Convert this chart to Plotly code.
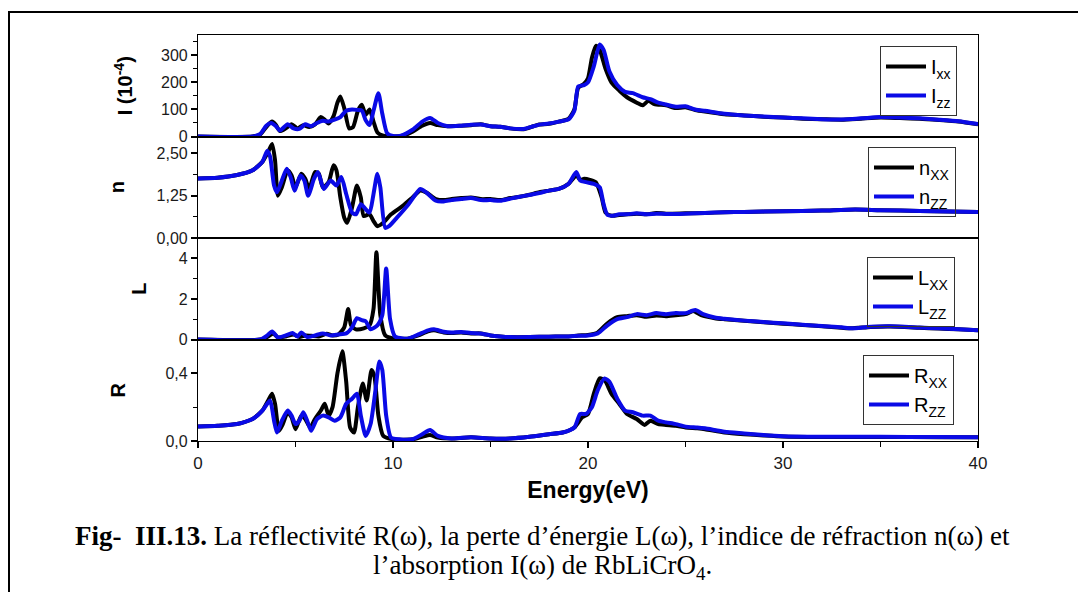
import plotly.graph_objects as go
from plotly.subplots import make_subplots

# ---------------- data ----------------
I_xx_E = [0, 2.8, 3.2, 3.5, 3.8, 4.0, 4.2, 4.5, 4.8, 5.1, 5.4, 5.7, 6.0, 6.3, 6.5, 6.7, 6.95, 7.15, 7.3, 7.5, 7.75, 7.95, 8.2, 8.4, 8.6, 8.8, 9.0, 9.2, 9.5, 10.0, 10.5, 11.0, 11.5, 11.9, 12.3, 12.8, 13.5, 14.0, 14.5, 15.0, 15.5, 16.0, 16.7, 17.2, 17.5, 18.0, 18.5, 19.0, 19.3, 19.5, 19.8, 20.0, 20.2, 20.4, 20.6, 20.9, 21.2, 21.6, 22.0, 22.5, 22.8, 23.1, 23.4, 24.0, 24.5, 25.0, 25.5, 26.0, 27.0, 28.0, 29.0, 30.0, 31.0, 32.0, 33.0, 34.0, 35.0, 36.0, 37.0, 38.0, 39.0, 40.0]
I_xx = [0, 0, 8, 35, 55, 42, 20, 30, 45, 30, 42, 35, 45, 72, 62, 48, 75, 125, 148, 105, 30, 35, 95, 117, 80, 100, 55, 15, 3, 0, 3, 18, 40, 50, 42, 38, 40, 42, 45, 38, 36, 30, 27, 38, 44, 47, 55, 65, 100, 180, 195, 215, 290, 335, 320, 250, 200, 170, 145, 125, 115, 132, 120, 115, 105, 108, 98, 92, 82, 78, 73, 70, 66, 64, 62, 66, 70, 68, 66, 61, 55, 45]

I_zz_E = [0, 2.8, 3.2, 3.5, 3.75, 4.0, 4.2, 4.6, 4.9, 5.2, 5.5, 5.8, 6.1, 6.4, 6.7, 7.0, 7.3, 7.6, 7.9, 8.2, 8.4, 8.6, 8.8, 9.0, 9.25, 9.45, 9.7, 10.0, 10.4, 11.0, 11.5, 11.9, 12.3, 12.8, 13.5, 14.0, 14.5, 15.0, 15.5, 16.0, 16.7, 17.2, 17.5, 18.0, 18.5, 19.0, 19.3, 19.5, 19.8, 20.0, 20.3, 20.6, 20.8, 21.1, 21.5, 21.9, 22.3, 22.8, 23.2, 23.6, 24.0, 24.5, 25.0, 25.5, 26.0, 27.0, 28.0, 29.0, 30.0, 31.0, 32.0, 33.0, 34.0, 35.0, 36.0, 37.0, 38.0, 39.0, 40.0]
I_zz = [0, 0, 10, 40, 50, 38, 22, 45, 30, 28, 45, 38, 50, 58, 55, 62, 72, 95, 100, 98, 96, 60, 42, 95, 160, 85, 12, 2, 3, 25, 55, 68, 50, 38, 40, 43, 44, 38, 36, 30, 28, 38, 44, 48, 55, 63, 95, 185, 190, 200, 260, 340, 320, 240, 190, 165, 160, 145, 138, 125, 118, 110, 112, 100, 95, 84, 78, 74, 70, 67, 64, 63, 67, 72, 70, 67, 62, 56, 46]

n_xx_E = [0, 1.0, 2.0, 2.8, 3.3, 3.6, 3.8, 3.95, 4.1, 4.3, 4.6, 4.8, 5.0, 5.3, 5.5, 5.7, 6.0, 6.2, 6.4, 6.7, 6.95, 7.1, 7.3, 7.5, 7.65, 7.9, 8.15, 8.35, 8.5, 8.8, 9.0, 9.2, 9.5, 9.9, 10.5, 11.0, 11.4, 11.7, 12.2, 12.6, 13.0, 13.5, 14.0, 14.5, 15.0, 15.5, 16.0, 16.5, 17.0, 17.5, 18.0, 18.5, 19.0, 19.4, 19.6, 19.8, 20.1, 20.4, 20.7, 20.9, 21.2, 21.6, 22.0, 22.5, 23.0, 23.5, 24.0, 25.0, 26.0, 27.0, 28.0, 30.0, 32.0, 33.7, 35.0, 37.0, 40.0]
n_xx = [1.76, 1.78, 1.86, 2.0, 2.25, 2.55, 2.78, 2.3, 1.25, 1.5, 2.0, 1.85, 1.5, 1.9, 1.75, 1.45, 1.95, 1.9, 1.5, 1.65, 2.15, 2.0, 1.2, 0.6, 0.45, 0.9, 1.55, 1.2, 0.65, 0.7, 0.5, 0.35, 0.45, 0.7, 0.95, 1.2, 1.4, 1.35, 1.15, 1.12, 1.15, 1.18, 1.2, 1.15, 1.15, 1.12, 1.18, 1.22, 1.28, 1.35, 1.4, 1.45, 1.6, 1.85, 1.72, 1.75, 1.72, 1.65, 1.2, 0.75, 0.66, 0.68, 0.7, 0.72, 0.7, 0.74, 0.72, 0.73, 0.74, 0.76, 0.77, 0.79, 0.81, 0.84, 0.82, 0.8, 0.77]

n_zz_E = [0, 1.0, 2.0, 2.8, 3.3, 3.55, 3.7, 3.9, 4.05, 4.3, 4.55, 4.75, 4.95, 5.25, 5.45, 5.65, 5.95, 6.15, 6.45, 6.8, 7.1, 7.35, 7.6, 7.9, 8.1, 8.35, 8.6, 8.8, 9.0, 9.2, 9.35, 9.6, 9.8, 10.2, 10.8, 11.4, 11.7, 12.2, 12.6, 13.0, 13.5, 14.0, 14.5, 15.0, 15.5, 16.0, 16.5, 17.0, 17.5, 18.0, 18.5, 19.0, 19.4, 19.6, 19.9, 20.3, 20.6, 20.8, 21.0, 21.3, 21.6, 22.0, 22.5, 23.0, 23.5, 24.0, 25.0, 26.0, 27.0, 28.0, 30.0, 32.0, 33.7, 35.0, 37.0, 40.0]
n_zz = [1.76, 1.78, 1.86, 2.0, 2.25, 2.58, 2.4, 1.55, 1.35, 1.7, 2.05, 1.8, 1.4, 1.85, 1.7, 1.25, 1.75, 1.95, 1.45, 1.7, 1.55, 1.8, 1.3, 0.75, 0.7, 1.0, 0.85, 0.75, 1.3, 1.9, 1.5, 0.3, 0.35, 0.6, 1.0, 1.45, 1.35, 1.1, 1.08, 1.12, 1.15, 1.18, 1.12, 1.12, 1.1, 1.16, 1.22, 1.27, 1.33, 1.4, 1.45, 1.6, 1.95, 1.7, 1.65, 1.6, 1.5, 1.0, 0.68, 0.66, 0.7, 0.7, 0.73, 0.7, 0.72, 0.71, 0.72, 0.74, 0.76, 0.77, 0.79, 0.81, 0.84, 0.82, 0.8, 0.77]

L_xx_E = [0, 3.2, 3.6, 3.85, 4.1, 4.5, 4.9, 5.2, 5.5, 5.8, 6.2, 6.6, 6.9, 7.2, 7.5, 7.7, 7.85, 8.1, 8.5, 8.8, 9.0, 9.15, 9.35, 9.6, 10.0, 10.8, 11.3, 11.8, 12.1, 12.6, 13.0, 13.5, 14.0, 14.5, 15.0, 15.5, 16.0, 17.0, 18.0, 19.0, 19.5, 20.0, 20.5, 21.0, 21.5, 22.0, 22.5, 23.0, 23.5, 24.0, 24.5, 25.0, 25.4, 25.8, 26.5, 27.0, 28.0, 29.0, 30.0, 31.0, 32.0, 33.0, 33.5, 34.5, 35.5, 37.0, 38.0, 39.0, 40.0]
L_xx = [0, 0, 0.15, 0.3, 0.1, 0.15, 0.25, 0.12, 0.2, 0.18, 0.15, 0.28, 0.2, 0.25, 0.6, 1.5, 0.7, 0.5, 0.55, 0.7, 1.5, 4.3, 1.2, 0.2, 0.05, 0.05, 0.2, 0.4, 0.45, 0.35, 0.32, 0.35, 0.3, 0.3, 0.2, 0.15, 0.12, 0.12, 0.14, 0.15, 0.2, 0.22, 0.35, 0.8, 1.1, 1.15, 1.2, 1.12, 1.18, 1.15, 1.2, 1.25, 1.4, 1.2, 1.05, 1.0, 0.92, 0.85, 0.78, 0.72, 0.65, 0.58, 0.55, 0.62, 0.64, 0.58, 0.54, 0.5, 0.45]

L_zz_E = [0, 3.2, 3.55, 3.8, 4.1, 4.5, 4.85, 5.1, 5.3, 5.6, 6.0, 6.4, 6.8, 7.2, 7.6, 7.9, 8.15, 8.4, 8.6, 8.85, 9.2, 9.45, 9.65, 9.85, 10.1, 10.5, 10.8, 11.3, 11.8, 12.1, 12.6, 13.0, 13.5, 14.0, 14.5, 15.0, 15.5, 16.0, 17.0, 18.0, 19.0, 19.5, 20.0, 20.5, 21.0, 21.5, 22.0, 22.5, 23.0, 23.5, 24.0, 24.5, 25.0, 25.5, 25.9, 26.5, 27.0, 28.0, 29.0, 30.0, 31.0, 32.0, 33.0, 33.5, 34.5, 35.5, 37.0, 38.0, 39.0, 40.0]
L_zz = [0, 0, 0.2, 0.4, 0.1, 0.2, 0.32, 0.15, 0.35, 0.12, 0.2, 0.3, 0.2, 0.25, 0.3, 0.6, 1.05, 0.95, 0.9, 0.5, 0.7, 1.2, 3.5, 1.0, 0.15, 0.05, 0.05, 0.25, 0.45, 0.5, 0.38, 0.35, 0.37, 0.32, 0.3, 0.2, 0.15, 0.12, 0.12, 0.14, 0.15, 0.18, 0.2, 0.3, 0.7, 1.0, 1.1, 1.25, 1.2, 1.3, 1.25, 1.3, 1.3, 1.45, 1.25, 1.08, 1.02, 0.93, 0.86, 0.8, 0.73, 0.66, 0.6, 0.55, 0.63, 0.65, 0.59, 0.55, 0.5, 0.46]

R_xx_E = [0, 1.0, 2.0, 2.8, 3.3, 3.6, 3.8, 3.95, 4.15, 4.35, 4.6, 4.8, 5.0, 5.3, 5.5, 5.75, 6.0, 6.3, 6.5, 6.7, 6.9, 7.15, 7.4, 7.6, 7.8, 8.0, 8.2, 8.45, 8.65, 8.9, 9.05, 9.25, 9.5, 10.0, 11.0, 11.5, 11.9, 12.3, 13.0, 14.0, 15.0, 16.0, 17.0, 18.0, 18.7, 19.3, 19.7, 20.0, 20.3, 20.6, 20.85, 21.2, 21.6, 22.0, 22.5, 22.9, 23.2, 23.6, 24.0, 24.5, 25.0, 25.6, 26.0, 27.0, 28.0, 29.0, 30.0, 32.0, 35.0, 38.0, 40.0]
R_xx = [0.085, 0.09, 0.1, 0.13, 0.18, 0.24, 0.28, 0.22, 0.06, 0.1, 0.17, 0.14, 0.07, 0.15, 0.13, 0.08, 0.13, 0.18, 0.22, 0.15, 0.2, 0.4, 0.53, 0.35, 0.08, 0.05, 0.2, 0.34, 0.24, 0.42, 0.38, 0.15, 0.03, 0.01, 0.01, 0.025, 0.035, 0.02, 0.015, 0.022, 0.015, 0.015, 0.025, 0.04, 0.05, 0.08, 0.14, 0.16, 0.28, 0.37, 0.36, 0.28, 0.22, 0.16, 0.13, 0.095, 0.12, 0.1, 0.095, 0.09, 0.08, 0.075, 0.07, 0.05, 0.04, 0.033, 0.027, 0.024, 0.024, 0.022, 0.022]

R_zz_E = [0, 1.0, 2.0, 2.8, 3.3, 3.55, 3.7, 3.9, 4.05, 4.3, 4.6, 4.8, 5.0, 5.2, 5.4, 5.6, 5.8, 6.1, 6.4, 6.7, 7.0, 7.3, 7.6, 7.9, 8.15, 8.35, 8.6, 8.85, 9.1, 9.3, 9.45, 9.65, 9.9, 10.3, 11.0, 11.5, 11.9, 12.3, 13.0, 14.0, 15.0, 16.0, 17.0, 18.0, 18.7, 19.3, 19.6, 19.9, 20.2, 20.5, 20.85, 21.1, 21.5, 21.9, 22.3, 22.8, 23.2, 23.6, 24.0, 24.5, 25.0, 25.6, 26.0, 27.0, 28.0, 29.0, 30.0, 32.0, 35.0, 38.0, 40.0]
R_zz = [0.085, 0.09, 0.1, 0.13, 0.18, 0.22, 0.24, 0.12, 0.05, 0.12, 0.18, 0.15, 0.1, 0.12, 0.17, 0.12, 0.06, 0.13, 0.15, 0.14, 0.12, 0.14, 0.22, 0.25, 0.28, 0.15, 0.03, 0.1, 0.3, 0.47, 0.42, 0.15, 0.02, 0.01, 0.01, 0.04, 0.065, 0.03, 0.015, 0.022, 0.015, 0.015, 0.025, 0.04, 0.05, 0.08, 0.16, 0.16, 0.2, 0.3, 0.37, 0.35, 0.25, 0.18, 0.17, 0.15, 0.15, 0.12, 0.11, 0.1, 0.085, 0.08, 0.075, 0.055, 0.045, 0.035, 0.028, 0.025, 0.025, 0.023, 0.022]

x_ticks = [0, 10, 20, 30, 40]
caption_line1 = "<b>Fig-\u00a0\u00a0III.13.</b> La réflectivité R(ω), la perte d’énergie L(ω), l’indice de réfraction n(ω) et"
caption_line2 = "l’absorption I(ω) de RbLiCrO<sub>4</sub>."

# ---------------- figure ----------------
BLACK = "#000000"
BLUE = "#0a0ae6"
fig = make_subplots(rows=4, cols=1, shared_xaxes=True, vertical_spacing=0)

panels = [
    (1, "legend", (I_xx_E, I_xx, "I<sub>xx</sub>"), (I_zz_E, I_zz, "I<sub>zz</sub>")),
    (2, "legend2", (n_xx_E, n_xx, "n<sub>XX</sub>"), (n_zz_E, n_zz, "n<sub>ZZ</sub>")),
    (3, "legend3", (L_xx_E, L_xx, "L<sub>XX</sub>"), (L_zz_E, L_zz, "L<sub>ZZ</sub>")),
    (4, "legend4", (R_xx_E, R_xx, "R<sub>XX</sub>"), (R_zz_E, R_zz, "R<sub>ZZ</sub>")),
]
for row, leg, a, b in panels:
    for (ex, ey, nm), col in ((a, BLACK), (b, BLUE)):
        fig.add_trace(go.Scatter(x=ex, y=ey, name=nm, mode="lines",
                                 line=dict(color=col, width=4, shape="spline", smoothing=0.6),
                                 legend=leg, showlegend=True),
                      row=row, col=1)

TICKFONT = dict(family="Liberation Sans, Arial", size=16, color="#1a1a1a")
XTICKFONT = dict(family="Liberation Sans, Arial", size=17, color="#1a1a1a")
TITLEFONT = dict(family="Liberation Sans, Arial", size=20, color="#000")

yspecs = [
    ("yaxis", [0, 375], 100, 50, "I (10<sup>-4</sup>)", None, 22),
    ("yaxis2", [0, 3.0], 1.25, 0.625, "n", ".2f", 26),
    ("yaxis3", [0, 5.0], 2, 1, "L", None, 26),
    ("yaxis4", [0, 0.6], 0.4, 0.2, "R", ".1f", 34),
]
doms = [[0.75, 1.0], [0.5, 0.75], [0.25, 0.5], [0.0, 0.25]]
for (ax, rng, dt, mdt, title, fmt, so), dom in zip(yspecs, doms):
    d = dict(range=rng, domain=dom, tick0=0, dtick=dt, ticks="outside", ticklen=6, tickwidth=1.5,
             tickcolor="#000", showline=True, linecolor="#000", linewidth=1.2, mirror=True,
             showgrid=False, zeroline=False, tickfont=TICKFONT,
             minor=dict(ticks="outside", ticklen=4, tickwidth=1.2, tickcolor="#000", dtick=mdt, tick0=0, showgrid=False),
             title=dict(text="<b>%s</b>" % title, font=TITLEFONT, standoff=so))
    if fmt:
        d["tickformat"] = fmt
    fig.layout[ax].update(d)

for i, ax in enumerate(["xaxis", "xaxis2", "xaxis3", "xaxis4"]):
    d = dict(range=[0, 40], showline=True, linecolor="#000", linewidth=1.2, mirror=True,
             showgrid=False, zeroline=False)
    if ax == "xaxis4":
        d.update(tickvals=x_ticks, ticks="outside", ticklen=6, tickwidth=1.5, tickcolor="#000",
                 tickfont=XTICKFONT, showticklabels=True,
                 minor=dict(ticks="outside", ticklen=5, tickwidth=1.2, tickcolor="#000", dtick=5, tick0=0),
                 title=dict(text="<b>Energy(eV)</b>", font=dict(family="Liberation Sans, Arial", size=23, color="#000"),
                            standoff=10))
    else:
        d.update(ticks="", showticklabels=False)
    fig.layout[ax].update(d)

W, H = 1078, 592
L_PX, R_PX, T_PX, B_PX = 198, 978, 35, 441
def px(xp):
    return (xp - L_PX) / (R_PX - L_PX)
def py(yp):
    return (B_PX - yp) / (B_PX - T_PX)

LEGFONT = dict(family="Liberation Sans, Arial", size=20, color="#000")
leg_common = dict(xanchor="right", yanchor="top", bordercolor="#333", borderwidth=1,
                  bgcolor="rgba(255,255,255,0)", font=LEGFONT, tracegroupgap=0, itemwidth=40)
fig.update_layout(
    legend=dict(x=px(957), y=py(46), **leg_common),
    legend2=dict(x=px(956), y=py(147), **leg_common),
    legend3=dict(x=px(955), y=py(257), **leg_common),
    legend4=dict(x=px(954), y=py(355), **leg_common),
)

# outer frame of the figure page
fig.add_shape(type="rect", xref="paper", yref="paper",
              x0=px(9), x1=px(1090), y0=py(605), y1=py(12),
              line=dict(color="#000", width=2), fillcolor="rgba(0,0,0,0)")

CAPFONT = dict(family="Liberation Serif, Times New Roman", size=27, color="#000")
fig.add_annotation(xref="paper", yref="paper", x=px(542), y=py(536), text=caption_line1,
                   showarrow=False, font=CAPFONT, xanchor="center", yanchor="middle")
fig.add_annotation(xref="paper", yref="paper", x=px(542), y=py(567), text=caption_line2,
                   showarrow=False, font=CAPFONT, xanchor="center", yanchor="middle")

fig.update_layout(
    width=W, height=H, separators=", ",
    margin=dict(l=L_PX, r=W - R_PX, t=T_PX, b=H - B_PX, autoexpand=False),
    paper_bgcolor="white", plot_bgcolor="white",
)
fig.write_html("out.html")
